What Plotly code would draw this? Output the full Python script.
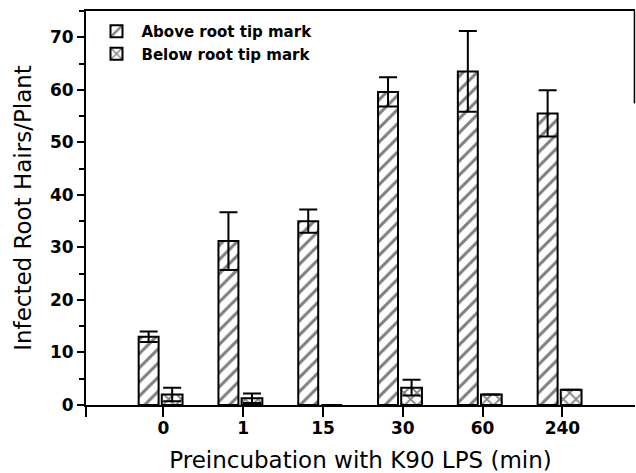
import plotly.graph_objects as go

categories = ["0", "1", "15", "30", "60", "240"]
above_vals = [13.0, 31.2, 35.0, 59.6, 63.5, 55.5]
above_err = [1.0, 5.5, 2.2, 2.8, 7.7, 4.4]
below_vals = [2.0, 1.3, 0.0, 3.3, 2.0, 2.9]
below_err = [1.3, 0.9, 0.0, 1.5, 0.0, 0.0]
y_ticks = [0, 10, 20, 30, 40, 50, 60, 70]

xpos = list(range(1, len(categories) + 1))
font = "DejaVu Sans"

fig = go.Figure()
fig.add_trace(go.Bar(
    x=xpos, y=above_vals, name="Above root tip mark",
    width=0.25, offset=-0.31,
    marker=dict(color="white", line=dict(color="black", width=2),
                pattern=dict(shape="/", fgcolor="black", bgcolor="white", size=10, solidity=0.3)),
    error_y=dict(type="data", array=above_err, color="black", thickness=2, width=9, visible=True),
))
fig.add_trace(go.Bar(
    x=xpos, y=below_vals, name="Below root tip mark",
    width=0.26, offset=-0.02,
    marker=dict(color="white", line=dict(color="black", width=2),
                pattern=dict(shape="x", fgcolor="black", bgcolor="white", size=9, solidity=0.35)),
    error_y=dict(type="data", array=below_err, color="black", thickness=2, width=9, visible=True),
))

fig.update_layout(
    width=636, height=473,
    margin=dict(l=86, r=1, t=11, b=68, autoexpand=False),
    plot_bgcolor="white", paper_bgcolor="white",
    barmode="overlay",
    font=dict(family=font, color="black"),
    legend=dict(x=0.01, y=0.99, xanchor="left", yanchor="top",
                font=dict(family=font, size=15, color="black", weight="bold"),
                bgcolor="rgba(0,0,0,0)", tracegroupgap=0, itemwidth=40),
    xaxis=dict(
        range=[0.03, 6.91],
        tickvals=[0.03] + xpos, ticktext=[""] + categories,
        ticks="outside", ticklen=10, tickwidth=2, tickcolor="black",
        ticklabelstandoff=-3,
        showline=True, linecolor="black", linewidth=2, mirror=True,
        showgrid=False, zeroline=False,
        tickfont=dict(size=17, family=font, weight="bold"),
        title=dict(text="Preincubation with K90 LPS (min)", font=dict(size=23, family=font), standoff=14),
    ),
    yaxis=dict(
        range=[0, 75],
        tickvals=y_ticks,
        ticks="outside", ticklen=7, tickwidth=2, tickcolor="black",
        minor=dict(dtick=5, ticks="outside", ticklen=5, tickwidth=2, tickcolor="black", showgrid=False),
        showline=True, linecolor="black", linewidth=2,
        showgrid=False, zeroline=False,
        tickfont=dict(size=17, family=font, weight="bold"),
        title=dict(text="Infected Root Hairs/Plant", font=dict(size=23, family=font), standoff=12),
    ),
)
fig.add_shape(type="line", xref="paper", yref="y", x0=0.999, x1=0.999, y0=57.4, y1=75,
              line=dict(color="black", width=1.5))

fig.write_html("out.html", config={"displayModeBar": False},
               post_script="document.body.style.margin='0px';")
